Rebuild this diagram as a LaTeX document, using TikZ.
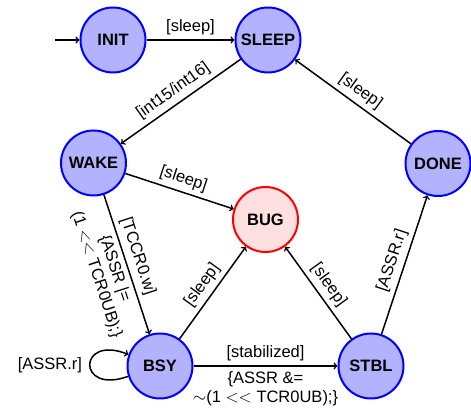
\documentclass[tikz,border=0pt]{standalone}
\usepackage{fontspec}
\setmainfont{Liberation Sans}
\begin{document}
\begin{tikzpicture}[x=1pt,y=1pt,
  every node/.style={font=\fontsize{16.5}{19}\selectfont},
  state/.style={circle,draw=blue,fill=blue!30,line width=2pt,minimum size=65pt,inner sep=0pt,font=\fontsize{16.5}{19}\selectfont\bfseries},
  badstate/.style={state,draw=red,fill=red!12},
  trans/.style={->,line width=1.5pt},
  elbl/.style={inner sep=4.5pt},
  lbl/.style={elbl,align=center}]
  \useasboundingbox (0,0) rectangle (471,411);

  % states
  \node[state] (init)  at (113,371)   {INIT};
  \node[state] (sleep) at (268,371)   {SLEEP};
  \node[state] (wake)  at (93.5,248)  {WAKE};
  \node[badstate] (bug) at (265.5,191.5) {BUG};
  \node[state] (done)  at (438,247.5) {DONE};
  \node[state] (bsy)   at (160,45)    {BSY};
  \node[state] (stbl)  at (371,45)    {STBL};
  \coordinate (start) at (55,371);

  % transitions
  \draw[trans] (start) -- (init);
  \draw[trans] (init) -- node[elbl,above] {[sleep]} (sleep);
  \draw[trans] (sleep) -- node[elbl,above,sloped] {[int15/int16]} (wake);
  \draw[trans] (wake) -- node[elbl,above,sloped] {[sleep]} (bug);
  \draw[trans] (wake) -- node[elbl,above,sloped,pos=0.47] {[TCCR0.w]}
                         node[lbl,below,sloped] {\{ASSR |=\\(1 $<<$ TCR0UB);\}} (bsy);
  \draw[trans] (bsy.198) .. controls +(200:55) and +(158:55) .. node[left,inner sep=7pt] {[ASSR.r]} (bsy.160);
  \draw[trans] (bsy) -- node[elbl,above,sloped] {[sleep]} (bug);
  \draw[trans] (bsy) -- node[elbl,above] {[stabilized]}
                        node[lbl,below] {\{ASSR \&=\\$\sim$(1 $<<$ TCR0UB);\}} (stbl);
  \draw[trans] (stbl) -- node[elbl,above,sloped] {[sleep]} (bug);
  \draw[trans] (stbl) -- node[elbl,above,sloped] {[ASSR.r]} (done);
  \draw[trans] (done) -- node[elbl,above,sloped] {[sleep]} (sleep);
\end{tikzpicture}
\end{document}
